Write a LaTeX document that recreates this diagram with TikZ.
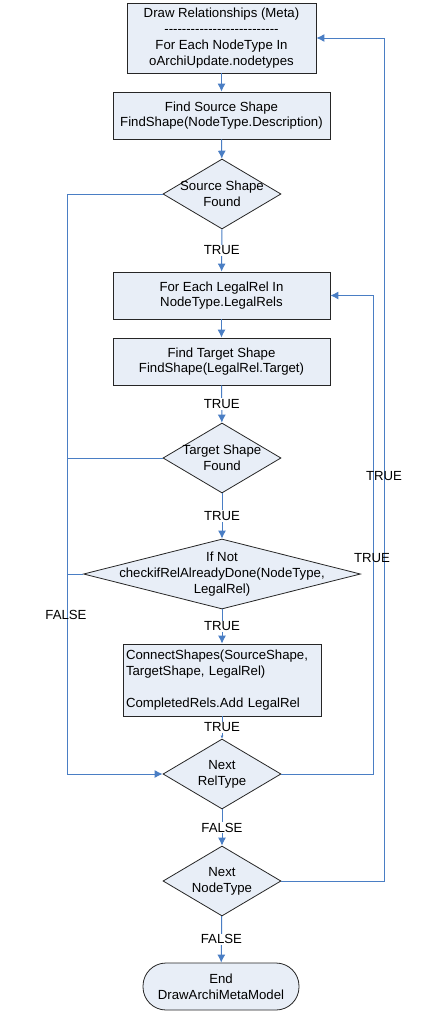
\documentclass[tikz,border=0pt]{standalone}
\usepackage{fontspec}
\setmainfont{Liberation Sans}[Ligatures=TeXOff]
\usetikzlibrary{shapes.geometric,arrows.meta}
\definecolor{flowblue}{RGB}{74,126,196}
\definecolor{flowfill}{RGB}{232,238,247}
\begin{document}
\begin{tikzpicture}[x=1pt, y=-1pt, >={Latex[length=8pt,width=8pt]},
  font=\fontsize{13.2}{15.8}\selectfont,
  box/.style={draw=black!85, line width=.8pt, fill=flowfill, align=center, inner sep=0pt},
  dec/.style={diamond, draw=black!85, line width=.8pt, fill=flowfill, inner sep=0pt, minimum width=118pt, minimum height=70pt},
  link/.style={draw=flowblue, line width=1pt},
  tag/.style={fill=white, inner sep=1pt}]
\useasboundingbox[fill=white] (0,0) rectangle (443,1017);
\node[box, minimum width=189pt, minimum height=70pt] (meta) at (221.5,38) {Draw Relationships (Meta)\\--------------------------\\For Each NodeType In\\oArchiUpdate.nodetypes};
\node[box, minimum width=217pt, minimum height=47pt] (findsrc) at (221.5,115.5) {Find Source Shape\\FindShape(NodeType.Description)};
\node[dec, label={[align=center]center:Source Shape\\Found}] (srcfound) at (222,194) {};
\node[box, minimum width=217pt, minimum height=47pt] (eachrel) at (221.5,295.5) {For Each LegalRel In\\NodeType.LegalRels};
\node[box, minimum width=217pt, minimum height=47pt] (findtgt) at (221.5,361.5) {Find Target Shape\\FindShape(LegalRel.Target)};
\node[dec, label={[align=center]center:Target Shape\\Found}] (tgtfound) at (222,458) {};
\node[dec, minimum width=277pt, label={[align=center]center:If Not\\checkifRelAlreadyDone(NodeType,\\LegalRel)}] (notdone) at (222,574) {};
\node[box, minimum width=198pt, minimum height=72pt, align=left, text width=192pt] (connect) at (222,680) {ConnectShapes(SourceShape,\\TargetShape, LegalRel)\\[15.8pt]CompletedRels.Add LegalRel};
\node[dec, label={[align=center]center:Next\\RelType}] (nextrel) at (222,774) {};
\node[dec, label={[align=center]center:Next\\NodeType}] (nextnode) at (222,881) {};
\node[box, rounded corners=23pt, minimum width=156pt, minimum height=47pt] (finish) at (221,986.5) {End\\DrawArchiMetaModel};
% main column
\draw[link,->] (meta) -- (findsrc);
\draw[link,->] (findsrc) -- (srcfound);
\draw[link,->] (srcfound) -- node[tag]{TRUE} (eachrel);
\draw[link,->] (eachrel) -- (findtgt);
\draw[link,->] (findtgt) -- node[tag]{TRUE} (tgtfound);
\draw[link,->] (tgtfound) -- node[tag]{TRUE} (notdone);
\draw[link,->] (notdone) -- node[tag]{TRUE} (connect);
\draw[link,-{Latex[length=3pt,width=3pt]}] (connect) -- node[tag]{TRUE} (nextrel);
\draw[link,->] (nextrel) -- node[tag]{FALSE} (nextnode);
\draw[link,->] (nextnode) -- node[tag]{FALSE} (finish);
% FALSE branches on the left
\coordinate (leftbus) at (67,774);
\draw[link,->] (srcfound.west) -| (leftbus) -- (nextrel.west);
\draw[link] (tgtfound.west) -- (tgtfound.west -| leftbus);
\draw[link] (notdone.west) -- (notdone.west -| leftbus);
\node (leftfalse) at (66,615) {FALSE};
% loops on the right
\coordinate (relbus) at (373,774);
\coordinate (nodebus) at (384,881);
\draw[link,->] (nextrel.east) -- (relbus) |- (eachrel.east);
\draw[link,->] (nextnode.east) -- (nodebus) |- (meta.east);
\node (reltrue) at (372,558) {TRUE};
\node (nodetrue) at (384,476) {TRUE};
\end{tikzpicture}
\end{document}
